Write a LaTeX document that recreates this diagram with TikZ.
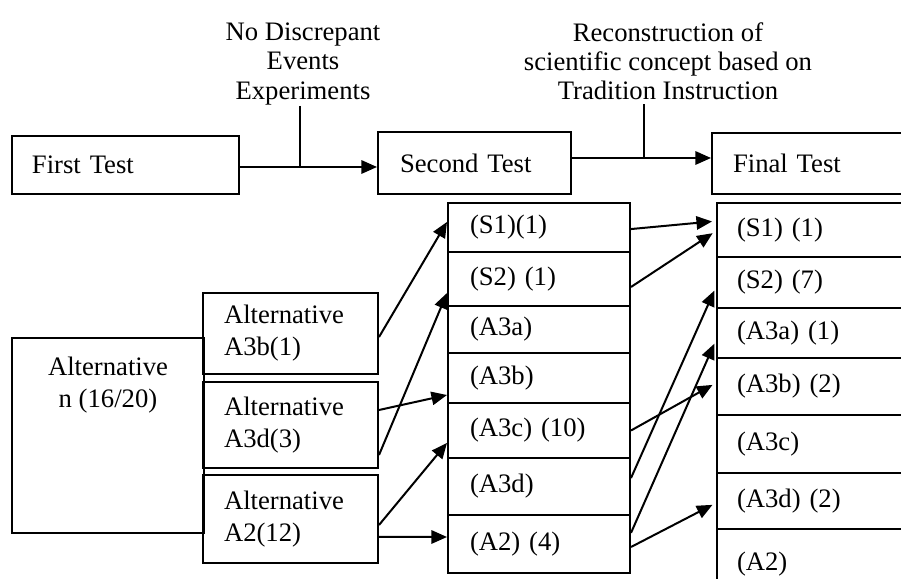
\documentclass[tikz,border=0pt]{standalone}
\usepackage{fontspec}
\setmainfont{Liberation Serif}
\usetikzlibrary{arrows.meta}

\begin{document}
\begin{tikzpicture}[x=0.45pt,y=-0.45pt,line width=0.9pt,>={Triangle[length=7pt,width=6pt]},font=\fontsize{12}{14.4}\selectfont]
    \tikzstyle{box}=[draw=black, rectangle, align=left, inner xsep=9pt, inner ysep=0pt, text=black]
    \tikzstyle{caption}=[align=center, inner sep=0pt, anchor=south, font=\fontsize{12}{13.2}\selectfont]
    \tikzstyle{mid}=[box, minimum width=81.9pt, text width=62.1pt, inner xsep=9.9pt]
    \tikzstyle{fin}=[box, minimum width=86.85pt, text width=68.85pt]
    \tikzstyle{alt}=[box, minimum width=78.75pt, text width=59.85pt, inner xsep=9.45pt]
    \useasboundingbox (0,0) rectangle (901,579);

    % tests
    \node[box, minimum width=102.15pt, minimum height=26.1pt, text width=84.15pt] (first) at (125.5,165) {First Test};
    \node[box, minimum width=86.85pt, minimum height=27.9pt, text width=67.05pt, inner xsep=9.9pt] (second) at (474.5,163) {Second Test};
    \node[box, minimum width=86.85pt, minimum height=27.45pt, text width=67.95pt, inner xsep=9.45pt] (final) at (808.5,163.5) {Final Test};
    \node[caption] (nde) at (303,106) {No Discrepant\\Events\\Experiments};
    \node[caption] (rec) at (668,101) {Reconstruction of\\scientific concept based on\\Tradition Instruction};

    % groups
    \node[draw=black, minimum width=86.4pt, minimum height=87.75pt] (altn) at (108,435.5) {};
    \node[align=center, anchor=north, inner sep=0pt] (altnt) at (108,356) {Alternative\\n (16/20)};
    \node[alt, minimum height=36.45pt] (alt1) at (290.5,333.5) {Alternative\\A3b(1)};
    \node[alt, minimum height=38.7pt]  (alt2) at (290.5,425)   {Alternative\\A3d(3)};
    \node[alt, minimum height=39.6pt]  (alt3) at (290.5,519)   {Alternative\\A2(12)};

    % second test column
    \node[mid, minimum height=22.05pt] (m1) at (539,227.5) {(S1)(1)};
    \node[mid, minimum height=24.3pt]  (m2) at (539,279)   {(S2) (1)};
    \node[mid, minimum height=21.15pt] (m3) at (539,329.5) {(A3a)};
    \node[mid, minimum height=22.5pt]  (m4) at (539,378)   {(A3b)};
    \node[mid, minimum height=24.75pt] (m5) at (539,430.5) {(A3c) (10)};
    \node[mid, minimum height=25.65pt] (m6) at (539,486.5) {(A3d)};
    \node[mid, minimum height=26.1pt]  (m7) at (539,544)   {(A2) (4)};

    % final test column
    \node[fin, minimum height=24.3pt]  (r1) at (813.5,230)   {(S1) (1)};
    \node[fin, minimum height=22.95pt] (r2) at (813.5,282.5) {(S2) (7)};
    \node[fin, minimum height=22.5pt]  (r3) at (813.5,333)   {(A3a) (1)};
    \node[fin, minimum height=25.65pt] (r4) at (813.5,386.5) {(A3b) (2)};
    \node[fin, minimum height=26.1pt]  (r5) at (813.5,444)   {(A3c)};
    \node[fin, minimum height=25.2pt]  (r6) at (813.5,501)   {(A3d) (2)};
    \node[fin, minimum height=31.95pt] (r7) at (813.5,564.5) {(A2)};

    % top flow
    \coordinate (e1) at ([yshift=-0.9pt]first.east);
    \coordinate (e2) at ([yshift=2.25pt]second.east);
    \coordinate (t2) at ([xshift=-10.8pt]rec.south);
    \coordinate (t1) at ([xshift=-1.35pt]nde.south);
    \draw[->] (e1) -- (e1 -| second.west);
    \draw[->] (e2) -- (e2 -| final.west);
    \draw (t1) -- (t1 |- e1);
    \draw ([yshift=-1.5pt]t2) -- (t2 |- e2);

    \path[->]
     ([yshift=-1.6pt]alt1.east)  edge ([yshift=2.5pt]m1.west)
     ([yshift=-13.5pt]alt2.east) edge ([yshift=-6.3pt]m2.west)
     ([yshift=6.75pt]alt2.east)  edge ([yshift=-7.65pt]m4.west)
     ([yshift=-2.7pt]alt3.east)  edge ([yshift=-5.6pt]m5.west)
     ([yshift=-8.1pt]alt3.east)  edge ([yshift=3.15pt]m7.west)
     ;
    \path[->, shorten >=1.8pt]
     ([yshift=-0.7pt]m1.east)  edge ([yshift=4pt]r1.west)
     ([yshift=-3.6pt]m2.east)  edge ([yshift=-0.45pt]r1.west)
     (m5.east)                 edge ([yshift=1.6pt]r4.west)
     ([yshift=3.8pt]m6.east)   edge ([yshift=-2pt]r2.west)
     ([yshift=5pt]m7.east)     edge ([yshift=-3.15pt]r3.west)
     ([yshift=-1.35pt]m7.east) edge ([yshift=-0.9pt]r6.west)
     ;
\end{tikzpicture}
\end{document}
